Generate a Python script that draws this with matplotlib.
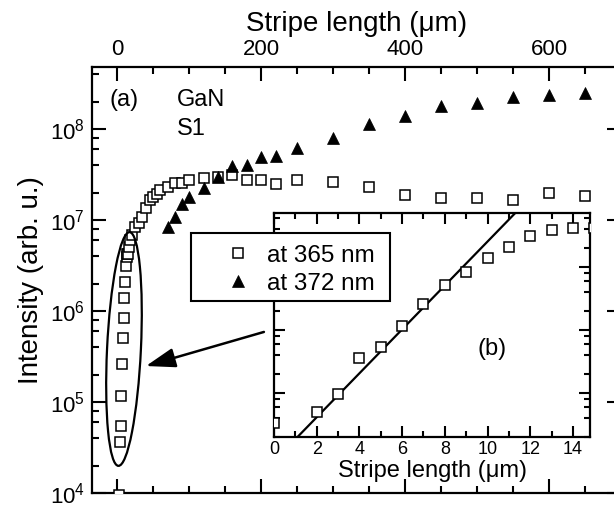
import matplotlib
matplotlib.use("Agg")
import matplotlib.pyplot as plt
from matplotlib.lines import Line2D
from matplotlib.patches import Ellipse, Rectangle
from matplotlib.ticker import LogLocator, LogFormatterMathtext, MultipleLocator, NullFormatter

plt.rcParams["font.family"] = ["Liberation Sans", "DejaVu Sans"]
plt.rcParams["mathtext.fontset"] = "custom"
plt.rcParams["mathtext.rm"] = "Liberation Sans"

# ---------------------------------------------------------------------
# Data
# ---------------------------------------------------------------------
# emission at 365 nm, stripe length in um
len_365 = [0, 2, 3, 4, 5, 6, 7, 8, 9, 10, 11, 12, 13, 14, 15,
           16, 18, 20, 25, 30, 35, 40, 45, 50, 55, 60, 70, 80, 90, 100,
           120, 140, 160, 180, 200, 220, 250, 300, 350, 400, 450, 500,
           550, 600, 650]
int_365 = [3.3e3, 5.0e3, 9.5e3, 3.6e4, 5.4e4, 1.15e5, 2.6e5, 5.1e5, 8.3e5,
           1.38e6, 2.1e6, 3.1e6, 3.9e6, 4.2e6, 4.2e6,
           5.0e6, 6.0e6, 6.9e6, 8.3e6, 9.3e6, 1.07e7, 1.35e7, 1.66e7, 1.78e7,
           1.95e7, 2.14e7, 2.29e7, 2.57e7, 2.57e7, 2.75e7,
           2.88e7, 3.0e7, 3.1e7, 2.75e7, 2.75e7, 2.5e7, 2.75e7, 2.6e7, 2.3e7,
           1.86e7, 1.74e7, 1.74e7, 1.66e7, 2.0e7, 1.82e7]

# emission at 372 nm
len_372 = [70, 80, 90, 100, 120, 140, 160, 180, 200, 220, 250, 300, 350,
           400, 450, 500, 550, 600, 650]
int_372 = [8.3e6, 1.07e7, 1.5e7, 1.78e7, 2.24e7, 3.0e7, 3.9e7, 4.0e7, 4.9e7,
           5.0e7, 6.2e7, 7.9e7, 1.12e8, 1.38e8, 1.78e8, 1.95e8, 2.24e8,
           2.34e8, 2.5e8]

# exponential gain fit shown in the inset (end points)
fit_len = [1.1, 11.3]
fit_int = [2.0e3, 7.2e6]

labels = ["at 365 nm", "at 372 nm"]

# ---------------------------------------------------------------------
# Figure
# ---------------------------------------------------------------------
fig = plt.figure(figsize=(6.14, 5.05), dpi=100)
ax = fig.add_axes([0.1498, 0.0238, 0.8616, 0.8436])

ax.plot(len_365, int_365, ls="none", marker="s", ms=6.5, mfc="white",
        mec="black", mew=1.1, zorder=3)
ax.plot(len_372, int_372, ls="none", marker="^", ms=9, mfc="black",
        mec="black", mew=0.5, zorder=3)

ax.set_yscale("log")
ax.set_xlim(-35, 700)
ax.set_ylim(1e4, 4.8e8)

ax.xaxis.set_major_locator(MultipleLocator(200))
ax.xaxis.set_minor_locator(MultipleLocator(50))
ax.yaxis.set_major_locator(LogLocator(base=10, numticks=20))
ax.yaxis.set_minor_locator(LogLocator(base=10, subs=(2, 4, 6, 8), numticks=20))
ax.yaxis.set_major_formatter(LogFormatterMathtext())
ax.yaxis.set_minor_formatter(NullFormatter())

ax.tick_params(which="both", direction="in", top=True, right=True,
               labelbottom=False, labeltop=True, width=1.5, labelsize=16)
ax.tick_params(which="major", length=10, pad=5)
ax.tick_params(which="minor", length=5)
ax.tick_params(axis="y", which="minor", right=False)
for sp in ax.spines.values():
    sp.set_linewidth(1.6)

ax.xaxis.set_label_position("top")
ax.set_xlabel("Stripe length (\u03bcm)", fontsize=20, labelpad=6)
ax.set_ylabel("Intensity (arb. u.)", fontsize=20, labelpad=4)

ax.text(0.034, 0.9225, "(a)", transform=ax.transAxes, fontsize=17, va="center")
ax.text(0.161, 0.9225, "GaN", transform=ax.transAxes, fontsize=17, va="center")
ax.text(0.161, 0.855, "S1", transform=ax.transAxes, fontsize=17, va="center")

# ellipse around the short-stripe points and arrow to the inset
ax.add_patch(Ellipse((0.0605, 0.338), 0.064, 0.549, angle=-2.2,
                     transform=ax.transAxes, fill=False, lw=1.6,
                     ec="black", zorder=4))
ax.annotate("", xy=(0.102, 0.298), xytext=(0.325, 0.378),
            xycoords="axes fraction", textcoords="axes fraction",
            arrowprops=dict(arrowstyle="-|>,head_length=0.9,head_width=0.3",
                            lw=1.8, color="black", mutation_scale=20,
                            shrinkA=0, shrinkB=0))

# ---------------------------------------------------------------------
# Inset (b): short stripe lengths
# ---------------------------------------------------------------------
axin = fig.add_axes([0.4463, 0.1347, 0.5147, 0.4436])
axin.plot(len_365, int_365, ls="none", marker="s", ms=7, mfc="white",
          mec="black", mew=1.1, zorder=3)
axin.plot(fit_len, fit_int, color="black", lw=1.6, zorder=2)
axin.set_yscale("log")
axin.set_xlim(0, 14.8)
axin.set_ylim(2.0e3, 7.2e6)
axin.xaxis.set_major_locator(MultipleLocator(2))
axin.xaxis.set_minor_locator(MultipleLocator(1))
axin.yaxis.set_major_locator(LogLocator(base=10, numticks=20))
axin.yaxis.set_minor_locator(LogLocator(base=10, subs=(2, 4, 6, 8), numticks=20))
axin.yaxis.set_major_formatter(NullFormatter())
axin.yaxis.set_minor_formatter(NullFormatter())
axin.tick_params(which="both", direction="in", top=True, right=True,
                 labelleft=False, width=1.5, labelsize=13)
axin.tick_params(which="major", length=8, pad=3)
axin.tick_params(which="minor", length=4)
for sp in axin.spines.values():
    sp.set_linewidth(1.6)
axin.set_xlabel("Stripe length (\u03bcm)", fontsize=17, labelpad=1)
axin.text(0.69, 0.393, "(b)", transform=axin.transAxes, fontsize=17,
          ha="center", va="center")

# legend box drawn over both axes (Origin-style wide frame)
fig.patches.append(Rectangle((0.311, 0.404), 0.324, 0.1347,
                             transform=fig.transFigure, figure=fig,
                             facecolor="white", edgecolor="black",
                             lw=1.5, zorder=4.5))
handles = [
    Line2D([], [], ls="none", marker="s", ms=6.5, mfc="white", mec="black", mew=1.1),
    Line2D([], [], ls="none", marker="^", ms=9, mfc="black", mec="black", mew=0.5),
]
fig.legend(handles, labels, loc="upper left", bbox_to_anchor=(0.348, 0.5158),
           fontsize=17.5, frameon=False, borderaxespad=0, borderpad=0,
           handlelength=2.0, handletextpad=0.19, labelspacing=0.26,
           numpoints=1)

fig.savefig("out.png", dpi=100)
